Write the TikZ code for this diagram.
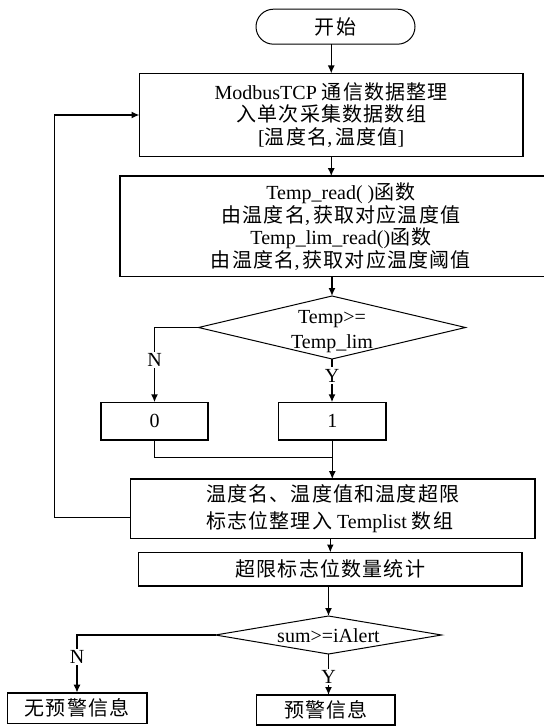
\documentclass[tikz,border=0pt]{standalone}
\usepackage{fontspec}
\setmainfont{Liberation Serif}
\newfontfamily\cjkf{Noto Sans CJK SC}[LetterSpace=6]
\newcommand\zht[1]{{\cjkf #1}}
\newcommand\txtf{\fontsize{20}{22.5}\selectfont}
\usetikzlibrary{shapes.geometric,arrows.meta}
\begin{document}
\begin{tikzpicture}[x=1pt,y=-1pt,
  box/.style={draw, line width=1.6pt, inner sep=0pt, outer sep=0pt, align=center, font=\txtf},
  term/.style={draw, line width=1pt, rounded corners=17.5pt, inner sep=0pt, outer sep=0pt, font=\txtf},
  dia/.style={draw, diamond, line width=1pt, inner sep=0pt, outer sep=0pt},
  dtext/.style={inner sep=0pt, align=center, font=\txtf},
  ln/.style={line width=1.5pt},
  arr/.style={line width=1.5pt, -{Latex[length=8pt,width=7pt]}},
  lbl/.style={fill=white, inner sep=1.5pt, font=\txtf}]
\useasboundingbox (0,0) rectangle (543,727);

\node[term, minimum width=159pt, minimum height=35pt] (start) at (335.5,26.7) {\zht{开始}};

\node[box, minimum width=383.5pt, minimum height=83pt] (b1) at (331.25,115)
  {ModbusTCP \zht{通信数据整理}\\ \zht{入单次采集数据数组}\\ {}[\zht{温度名},\hspace{3pt}\zht{温度值}]};

\node[box, minimum width=442.2pt, minimum height=100.4pt] (b2) at (340.9,226.4)
  {Temp\_read( )\zht{函数}\\ \zht{由温度名},\hspace{3pt}\zht{获取对应温度值}\\ Temp\_lim\_read()\zht{函数}\\ \zht{由温度名},\hspace{3pt}\zht{获取对应温度阈值}};

\node[dia, minimum width=267pt, minimum height=63pt] (d1) at (332,327.5) {};
\node[dtext, font=\fontsize{20}{25}\selectfont] (d1t) at (332,332) {Temp>=\\ Temp\_lim};

\node[box, minimum width=107.3pt, minimum height=37.4pt] (b0) at (154.5,421) {0};
\node[box, minimum width=107.3pt, minimum height=37.4pt] (b1v) at (332.3,421) {1};

\node[box, align=left, font=\fontsize{20}{27.7}\selectfont, minimum width=404.5pt, minimum height=59.2pt] (b3) at (332.75,508.8)
  {\zht{温度名、温度值和温度超限}\\ \zht{标志位整理入} Templist \zht{数组}};

\node[box, minimum width=383.5pt, minimum height=33.6pt] (b4) at (330.3,569.3) {\zht{超限标志位数量统计}};

\node[dia, minimum width=226pt, minimum height=38pt] (d2) at (328.5,635) {};
\node[dtext] (d2t) at (328.5,635.5) {sum>=iAlert};

\node[box, minimum width=139.4pt, minimum height=30.6pt] (b5) at (77,708) {\zht{无预警信息}};
\node[box, minimum width=138.3pt, minimum height=30pt] (b6) at (325.8,710) {\zht{预警信息}};

\coordinate (mrg) at (332.3,457.7);
\coordinate (lp) at (54.4,300);

\draw[arr] (b1.north |- start.south) -- (b1.north);
\draw[arr] (b1.south) -- (b1.south |- b2.north);
\draw[arr] (d1.north |- b2.south) -- (d1.north);
\draw[arr] (d1.west) -| node[lbl, pos=0.72]{N} (b0.north);
\draw[arr] (d1.south) -- node[lbl, pos=0.38]{Y} (d1.south |- b1v.north);
\draw[ln] (b0.south) |- (mrg);
\draw[arr] (b1v.south) -- (b1v.south |- b3.north);
\draw[arr] ([yshift=-8.8pt]b3.west) -| (lp) |- (b1.west);
\draw[arr] (b3.south -| b4.north) -- (b4.north);
\draw[arr] (d2.north |- b4.south) -- (d2.north);
\draw[arr] (d2.west) -| node[lbl, pos=0.69]{N} (b5.north);
\draw[arr] (d2.south) -- node[lbl, pos=0.55]{Y} (d2.south |- b6.north);
\end{tikzpicture}
\end{document}
